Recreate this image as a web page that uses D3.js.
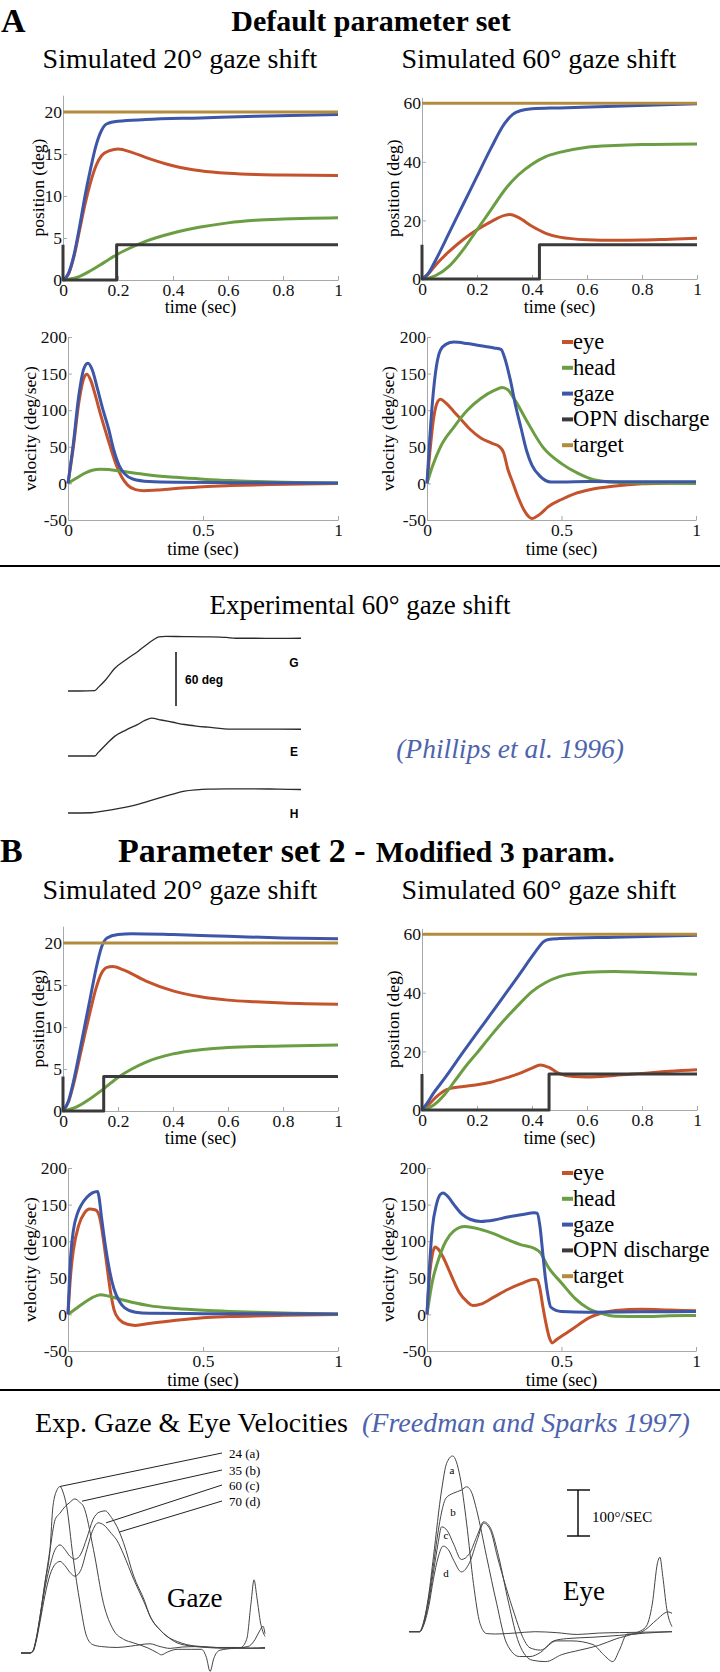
<!DOCTYPE html>
<html><head><meta charset="utf-8">
<script src="https://cdn.jsdelivr.net/npm/d3@7"></script>
<style>body{margin:0;background:#fff}svg{display:block}</style>
</head><body><svg id="c" width="720" height="1672"></svg>
<script>
// ---------------- DATA ----------------
const seriesNames = ['eye','head','gaze','OPN discharge','target'];
const seriesColors = ['#c4532d','#6b9e43','#3d56a8','#3a3a3a','#b38b3f'];
const posTicksX = [0,0.2,0.4,0.6,0.8,1];
const velTicksX = [0,0.5,1];
const pos20TicksY = [0,5,10,15,20];
const pos60TicksY = [0,20,40,60];
const velTicksY = [-50,0,50,100,150,200];

// Panel A, 20 deg, position [time s, deg]
const A20_pos_eye = [[0,0],[0.02,0.7],[0.04,2.8],[0.06,5.9],[0.08,9],[0.1,11.6],[0.12,13.6],[0.14,14.8],[0.17,15.4],[0.2,15.6],[0.25,15.2],[0.3,14.6],[0.4,13.6],[0.5,13.0],[0.6,12.7],[0.7,12.55],[0.8,12.5],[1,12.45]];
const A20_pos_head = [[0,0],[0.05,0.3],[0.1,1.1],[0.15,2.1],[0.2,3.1],[0.25,3.9],[0.3,4.6],[0.4,5.6],[0.5,6.3],[0.6,6.8],[0.7,7.1],[0.8,7.25],[0.9,7.35],[1,7.4]];
const A20_pos_gaze = [[0,0],[0.02,0.8],[0.04,3],[0.06,6.3],[0.08,10],[0.1,13.2],[0.12,16],[0.14,17.8],[0.16,18.6],[0.2,18.9],[0.3,19.1],[0.5,19.3],[0.7,19.5],[1,19.7]];
const A20_pos_opn = [[0,4.2],[0,0],[0.195,0],[0.195,4.2],[1,4.2]];
const A20_pos_target = [[0,20],[1,20]];
// Panel A, 60 deg, position
const A60_pos_eye = [[0,0],[0.03,2.5],[0.05,4.8],[0.1,9.5],[0.15,13.5],[0.2,16.8],[0.25,19.5],[0.3,21.7],[0.32,22],[0.35,21],[0.4,18],[0.45,15.6],[0.5,14.3],[0.6,13.4],[0.7,13.2],[0.8,13.3],[0.9,13.6],[1,13.9]];
const A60_pos_head = [[0,0],[0.05,1.2],[0.1,4.5],[0.15,10],[0.2,16.8],[0.25,23.5],[0.3,30.3],[0.35,35.5],[0.4,39.2],[0.45,41.8],[0.5,43.2],[0.6,45],[0.7,45.6],[0.8,45.9],[1,46.1]];
const A60_pos_gaze = [[0,0],[0.02,1.5],[0.05,6.5],[0.1,16],[0.15,25.5],[0.2,35],[0.25,44.5],[0.3,53],[0.33,56.2],[0.36,57.5],[0.4,58.1],[0.5,58.4],[0.7,59],[1,59.8]];
const A60_pos_opn = [[0,11.7],[0,0],[0.427,0],[0.427,11.7],[1,11.7]];
const A60_pos_target = [[0,60],[1,60]];
// Panel A, velocity [time s, deg/s]
const A20_vel_eye = [[0,0],[0.02,50],[0.04,110],[0.06,145],[0.07,149],[0.085,140],[0.1,122],[0.12,95],[0.14,70],[0.16,46],[0.18,24],[0.2,8],[0.22,-2],[0.25,-8.5],[0.28,-10],[0.33,-9],[0.4,-7],[0.5,-4.5],[0.6,-3],[0.75,-1.5],[1,-0.3]];
const A20_vel_head = [[0,0],[0.03,7],[0.06,13.5],[0.09,18],[0.12,19.5],[0.15,19],[0.2,16.5],[0.25,14],[0.3,11.5],[0.4,8.3],[0.5,5.8],[0.6,3.8],[0.7,2.5],[0.8,1.5],[0.9,0.8],[1,0.4]];
const A20_vel_gaze = [[0,0],[0.02,55],[0.04,120],[0.06,158],[0.074,164],[0.09,155],[0.11,128],[0.13,100],[0.15,75],[0.17,45],[0.19,24],[0.21,13],[0.24,6],[0.3,2.5],[0.4,1.5],[0.6,1],[1,0.5]];
const A60_vel_eye = [[0,0],[0.01,40],[0.025,90],[0.04,112],[0.05,115],[0.07,110],[0.1,98],[0.13,86],[0.16,74],[0.2,62],[0.24,55],[0.27,50],[0.285,42],[0.3,20],[0.32,0],[0.34,-20],[0.36,-36],[0.38,-46],[0.39,-48],[0.42,-42],[0.45,-32],[0.5,-22],[0.55,-14],[0.6,-9],[0.7,-3.5],[0.8,-0.5],[0.9,0.5],[1,1]];
const A60_vel_head = [[0,0],[0.02,23],[0.05,50],[0.1,77],[0.15,100],[0.2,116],[0.25,127],[0.28,131],[0.3,128],[0.33,112],[0.37,86],[0.43,50],[0.5,27],[0.56,14],[0.62,5],[0.7,1.5],[0.8,0.5],[1,0]];
const A60_vel_gaze = [[0,0],[0.01,60],[0.02,110],[0.035,160],[0.05,182],[0.07,190],[0.1,193],[0.15,191],[0.2,188],[0.25,185],[0.275,183],[0.29,170],[0.31,141],[0.33,105],[0.35,75],[0.37,45],[0.39,25],[0.42,10],[0.46,2],[0.5,2],[0.6,2.5],[0.8,2.3],[1,2.3]];

// Panel B, 20 deg, position
const B20_pos_eye = [[0,0],[0.02,1.1],[0.04,3.4],[0.06,6.3],[0.08,9.2],[0.1,12],[0.12,14.6],[0.14,16.4],[0.16,17.1],[0.18,17.2],[0.22,16.8],[0.3,15.5],[0.4,14.3],[0.5,13.6],[0.6,13.2],[0.7,13],[0.8,12.85],[1,12.7]];
const B20_pos_head = [[0,0],[0.05,0.5],[0.1,1.5],[0.15,2.7],[0.2,4],[0.25,5],[0.3,5.8],[0.4,6.8],[0.5,7.3],[0.6,7.55],[0.8,7.75],[1,7.85]];
const B20_pos_gaze = [[0,0],[0.02,1.2],[0.04,3.8],[0.06,7],[0.08,10.3],[0.1,13.6],[0.12,16.9],[0.14,19.5],[0.16,20.6],[0.2,21],[0.25,21.1],[0.4,21],[0.6,20.8],[0.8,20.6],[1,20.5]];
const B20_pos_opn = [[0,4.1],[0,0],[0.148,0],[0.148,4.1],[1,4.1]];
const B20_pos_target = [[0,20],[1,20]];
// Panel B, 60 deg, position
const B60_pos_eye = [[0,0],[0.02,1.5],[0.05,4.3],[0.08,6.5],[0.1,7.3],[0.15,8],[0.2,8.6],[0.25,9.5],[0.3,10.8],[0.35,12.3],[0.4,14.3],[0.43,15.4],[0.46,14.6],[0.5,12.4],[0.55,11.4],[0.6,11.3],[0.7,11.8],[0.8,12.5],[0.9,13.2],[1,13.7]];
const B60_pos_head = [[0,0],[0.04,1.5],[0.08,5],[0.12,10],[0.16,15],[0.2,19.5],[0.25,25.3],[0.3,30.8],[0.35,35.8],[0.4,40.4],[0.45,43.5],[0.5,45.5],[0.6,47],[0.7,47.3],[0.8,47],[1,46.3]];
const B60_pos_gaze = [[0,0],[0.02,2.5],[0.04,5.5],[0.08,10.5],[0.15,19.8],[0.2,26.3],[0.25,32.7],[0.3,39.2],[0.35,45.7],[0.4,52.4],[0.42,55],[0.44,57.3],[0.46,58.2],[0.5,58.5],[0.7,59],[1,59.6]];
const B60_pos_opn = [[0,12.3],[0,0],[0.462,0],[0.462,12.3],[1,12.3]];
const B60_pos_target = [[0,60],[1,60]];
// Panel B, velocity
const B20_vel_eye = [[0,0],[0.01,55],[0.02,88],[0.04,122],[0.06,138],[0.08,144],[0.1,143],[0.11,140],[0.12,128],[0.13,105],[0.14,78],[0.15,50],[0.16,25],[0.17,7],[0.19,-7],[0.22,-13.5],[0.25,-15],[0.3,-12.5],[0.4,-8],[0.5,-4.5],[0.6,-3],[0.8,-1.3],[1,-0.3]];
const B20_vel_head = [[0,0],[0.03,8],[0.06,16],[0.09,23],[0.12,27],[0.15,25],[0.2,20],[0.25,15.5],[0.3,12],[0.4,8],[0.5,5.6],[0.6,4],[0.7,2.8],[0.8,2],[0.9,1.2],[1,0.6]];
const B20_vel_gaze = [[0,0],[0.01,80],[0.02,115],[0.035,138],[0.05,150],[0.07,160],[0.09,166],[0.11,168],[0.115,160],[0.125,130],[0.14,90],[0.155,58],[0.17,35],[0.19,18],[0.21,9],[0.25,3],[0.3,1.5],[0.5,1],[1,0.5]];
const B60_vel_eye = [[0,0],[0.01,55],[0.02,82],[0.03,92],[0.04,90],[0.06,78],[0.08,62],[0.1,45],[0.12,30],[0.15,17],[0.17,12],[0.2,14],[0.25,24],[0.3,34],[0.35,42],[0.4,48],[0.41,47],[0.42,35],[0.43,12],[0.44,-8],[0.455,-32],[0.465,-39],[0.48,-35],[0.52,-25],[0.56,-15],[0.6,-5],[0.65,2],[0.7,5.5],[0.8,7],[0.9,6],[1,5]];
const B60_vel_head = [[0,0],[0.02,45],[0.04,72],[0.07,100],[0.1,114],[0.14,120],[0.2,116],[0.25,110],[0.3,102],[0.35,95],[0.4,90],[0.42,85],[0.45,65],[0.5,43],[0.55,22],[0.6,8],[0.65,1],[0.7,-2.5],[0.8,-3],[0.9,-2],[1,-1.5]];
const B60_vel_gaze = [[0,0],[0.01,70],[0.02,118],[0.035,150],[0.05,164],[0.06,166],[0.08,160],[0.1,150],[0.13,137],[0.16,130],[0.2,127],[0.25,129],[0.3,133],[0.35,136],[0.4,139],[0.41,138],[0.42,120],[0.43,85],[0.44,50],[0.45,25],[0.46,10],[0.5,4],[0.6,3],[0.8,3.5],[1,4]];

// Experimental (Phillips et al. 1996) [time ms, deg]
const expG = [[0,0],[50,0],[115,0.5],[130,4],[160,12],[200,25],[250,35],[300,44],[340,52],[370,57.5],[390,60.2],[420,60.6],[500,60.5],[600,60.2],[680,59.5],[720,58.6],[800,58.6],[900,58.5],[1000,58.6]];
const expE = [[0,0],[115,0],[130,4],[160,12],[200,21.8],[250,29],[300,35.2],[330,39.5],[358,42],[400,40],[450,37.5],[500,35],[550,33.3],[600,32],[700,29.8],[800,29.8],[1000,29.7]];
const expH = [[0,0],[100,0.3],[150,2],[220,5.1],[300,9.7],[350,13.5],[400,17.3],[450,21],[500,24.3],[550,25.8],[600,26.5],[700,26.8],[800,26.9],[900,26.5],[1000,26.1]];
const expTraceLabels = ['G','E','H'];
const scaleBarDeg = 60;

// Freedman & Sparks 1997 velocities [time ms, deg/s]
const fsGaze_a = [[0,0],[37,0],[49,5],[62,30],[78,80],[98,152],[119,225],[131,319],[148,355],[160,362],[172,350],[187,319],[213,210],[242,108],[269,36],[295,18],[330,14],[394,12],[450,15],[529,20],[570,14],[611,10],[660,13],[734,14],[800,12],[880,12],[940,11],[1000,12]];
const fsGaze_b = [[0,0],[37,0],[49,5],[62,30],[78,80],[98,152],[119,225],[140,290],[160,304],[180,318],[197,326],[221,335],[240,328],[256,319],[297,225],[338,108],[379,50],[420,30],[461,22],[520,11],[560,0],[575,-4],[600,2],[640,8],[700,8],[740,8],[760,-10],[775,-40],[790,-12],[815,6],[880,10],[1000,10]];
const fsGaze_c = [[0,0],[37,0],[49,4],[62,28],[78,75],[98,140],[119,190],[140,225],[160,235],[180,225],[201,210],[221,204],[245,215],[270,250],[295,290],[320,306],[345,309],[370,295],[393,275],[420,240],[462,167],[505,115],[529,80],[570,50],[599,36],[640,25],[681,18],[740,14],[800,12],[900,12],[925,30],[943,110],[955,159],[967,120],[982,65],[1000,36]];
const fsGaze_d = [[0,0],[37,0],[49,3],[62,25],[78,68],[98,125],[119,170],[140,193],[160,199],[180,190],[201,175],[221,167],[245,180],[270,225],[295,268],[316,283],[340,278],[370,260],[393,245],[420,215],[462,160],[505,110],[529,80],[570,50],[599,36],[640,22],[700,15],[760,12],[850,10],[930,14],[960,30],[978,48],[992,58],[1000,42]];
const fsGazeLabels = ['24 (a)','35 (b)','60 (c)','70 (d)'];
const fsGazeLeaderTargets = [[160,362],[250,330],[349,283],[403,263]];
const fsEye_a = [[0,0],[40,0],[55,20],[75,80],[93,163],[124,308],[143,366],[166,382],[194,337],[219,236],[245,105],[270,18],[295,-4],[330,-5],[400,-3],[480,0],[560,-2],[640,-6],[720,-3],[800,-2],[1000,0]];
const fsEye_b = [[0,0],[40,0],[55,18],[75,75],[93,145],[110,215],[124,260],[140,290],[168,301],[200,308],[219,315],[240,300],[257,265],[295,163],[333,62],[371,-25],[420,-54],[460,-54],[500,-45],[550,-20],[600,-15],[700,-12],[800,-8],[900,-3],[1000,0]];
const fsEye_c = [[0,0],[40,0],[55,15],[75,65],[93,130],[110,190],[124,228],[145,220],[170,190],[199,157],[230,170],[260,210],[284,239],[310,225],[341,163],[379,62],[418,-25],[469,-62],[520,-65],[580,-50],[650,-40],[720,-30],[790,-15],[850,-5],[900,10],[925,60],[945,150],[954,162],[965,120],[980,50],[1000,11]];
const fsEye_d = [[0,0],[40,0],[55,13],[75,55],[93,115],[110,160],[130,186],[150,178],[170,155],[199,130],[230,150],[260,200],[284,236],[310,220],[336,163],[400,40],[431,-10],[460,-35],[500,-40],[560,-20],[620,-20],[700,-28],[740,-50],[775,-65],[800,-40],[830,-5],[860,-5],[900,5],[940,25],[985,43],[1000,40]];
const fsEyeLetters = ['a','b','c','d'];
const scaleBarVel = 100;

// ---------------- DRAWING ----------------
const SERIF = '"Liberation Serif","Times New Roman",Times,serif';
const SANS = '"Liberation Sans",Arial,sans-serif';
const svg = d3.select('#c');
const fmt = d => String(+(+d).toFixed(2));

function txt(x, y, s, size, opt = {}) {
  const t = svg.append('text').attr('x', x).attr('y', y).text(s)
    .attr('font-family', opt.family || SERIF).attr('font-size', size)
    .attr('fill', opt.fill || '#000')
    .attr('text-anchor', opt.anchor || 'start');
  if (opt.weight) t.attr('font-weight', opt.weight);
  if (opt.italic) t.attr('font-style', 'italic');
  return t;
}

function simPanel(p) {
  const x = d3.scaleLinear().domain([0, 1]).range([p.x0, p.x1]);
  const y = d3.scaleLinear().domain(p.dom).range([p.yb, p.yt]);
  const g = svg.append('g');
  const xa = g.append('g').attr('transform', `translate(0,${p.yb})`)
    .call(d3.axisBottom(x).tickValues(p.xticks).tickFormat(fmt).tickSizeInner(-4).tickSizeOuter(0).tickPadding(4));
  const ya = g.append('g').attr('transform', `translate(${p.x0},0)`)
    .call(d3.axisLeft(y).tickValues(p.yticks).tickFormat(fmt).tickSizeInner(-4).tickSizeOuter(0).tickPadding(1));
  [xa, ya].forEach(a => {
    a.attr('font-family', SERIF).attr('font-size', 17.5);
    a.select('.domain').attr('stroke', '#a8a8a8').attr('stroke-width', 1);
    a.selectAll('.tick line').attr('stroke', '#a8a8a8');
    a.selectAll('.tick text').attr('fill', '#111');
  });
  p.series.forEach((s, i) => {
    if (!s) return;
    const step = s.length > 2 && s[0][0] === s[1][0];
    const line = d3.line().x(d => x(d[0])).y(d => y(d[1]))
      .curve(step ? d3.curveLinear : d3.curveMonotoneX);
    g.append('path').datum(s).attr('d', line).attr('fill', 'none')
      .attr('stroke', seriesColors[i]).attr('stroke-width', 3)
      .attr('stroke-linejoin', 'round');
  });
  txt((p.x0 + p.x1) / 2, p.yb + p.xlabOff, 'time (sec)', 18, {anchor: 'middle'});
  svg.append('text').attr('transform', `translate(${p.ylabX},${(p.yb + p.yt) / 2}) rotate(-90)`)
    .attr('text-anchor', 'middle').attr('dy', '0.35em')
    .attr('font-family', SERIF).attr('font-size', 17.5).text(p.ylab);
}

function legend(x, y0, dy) {
  seriesNames.forEach((n, i) => {
    const yy = y0 + i * dy;
    svg.append('line').attr('x1', x).attr('x2', x + 11).attr('y1', yy).attr('y2', yy)
      .attr('stroke', seriesColors[i]).attr('stroke-width', 4);
    txt(x + 11, yy + 7, n, 22.5);
  });
}

function section(off, d) {
  simPanel({x0: 63, x1: 338, yb: 280 + off, yt: 280 + off - 22 * 8.4, dom: [0, 22], xticks: posTicksX, yticks: pos20TicksY,
    series: d.p20, ylab: 'position (deg)', ylabX: 38, xlabOff: 33});
  simPanel({x0: 422, x1: 697, yb: 279 + off, yt: 279 + off - 62 * 2.93, dom: [0, 62], xticks: posTicksX, yticks: pos60TicksY,
    series: d.p60, ylab: 'position (deg)', ylabX: 393, xlabOff: 34});
  simPanel({x0: 68, x1: 338, yb: 520 + off, yt: 337 + off, dom: [-50, 200], xticks: velTicksX, yticks: velTicksY,
    series: d.v20, ylab: 'velocity (deg/sec)', ylabX: 30, xlabOff: 35});
  simPanel({x0: 427, x1: 696, yb: 520 + off, yt: 337 + off, dom: [-50, 200], xticks: velTicksX, yticks: velTicksY,
    series: d.v60, ylab: 'velocity (deg/sec)', ylabX: 388, xlabOff: 35});
  legend(562, 342 + off, 25.8);
  txt(180, 68 + off, 'Simulated 20° gaze shift', 28, {anchor: 'middle'});
  txt(539, 68 + off, 'Simulated 60° gaze shift', 28, {anchor: 'middle'});
}

// Section A
txt(1, 32, 'A', 34, {weight: 'bold'});
txt(371, 31, 'Default parameter set', 30, {weight: 'bold', anchor: 'middle'});
section(0, {
  p20: [A20_pos_eye, A20_pos_head, A20_pos_gaze, A20_pos_opn, A20_pos_target],
  p60: [A60_pos_eye, A60_pos_head, A60_pos_gaze, A60_pos_opn, A60_pos_target],
  v20: [A20_vel_eye, A20_vel_head, A20_vel_gaze],
  v60: [A60_vel_eye, A60_vel_head, A60_vel_gaze]
});

// Section B
txt(0, 862, 'B', 34, {weight: 'bold'});
const bt = txt(118, 862, 'Parameter set 2 -', 34, {weight: 'bold'});
bt.append('tspan').attr('dx', 10).attr('font-size', 30).text('Modified 3 param.');
section(831, {
  p20: [B20_pos_eye, B20_pos_head, B20_pos_gaze, B20_pos_opn, B20_pos_target],
  p60: [B60_pos_eye, B60_pos_head, B60_pos_gaze, B60_pos_opn, B60_pos_target],
  v20: [B20_vel_eye, B20_vel_head, B20_vel_gaze],
  v60: [B60_vel_eye, B60_vel_head, B60_vel_gaze]
});

// separators
[566, 1390].forEach(yy => svg.append('line').attr('x1', 0).attr('x2', 720).attr('y1', yy).attr('y2', yy)
  .attr('stroke', '#000').attr('stroke-width', 2));

// Experimental Phillips
txt(360, 614, 'Experimental 60° gaze shift', 27, {anchor: 'middle'});
{
  const x = d3.scaleLinear().domain([0, 1000]).range([68, 301]);
  const bases = [691, 756, 813];
  const labY = [667, 756, 818];
  const pxPerDeg = 0.9;
  [expG, expE, expH].forEach((tr, i) => {
    const y = d3.scaleLinear().domain([0, 60]).range([bases[i], bases[i] - 60 * pxPerDeg]);
    svg.append('path').datum(tr).attr('fill', 'none').attr('stroke', '#2a2a2a').attr('stroke-width', 1.3)
      .attr('d', d3.line().x(d => x(d[0])).y(d => y(d[1])).curve(d3.curveMonotoneX));
    txt(294, labY[i], expTraceLabels[i], 12, {family: SANS, weight: 'bold', anchor: 'middle'});
  });
  const yb = d3.scaleLinear().domain([0, 60]).range([706, 706 - 60 * pxPerDeg]);
  svg.append('line').attr('x1', 176).attr('x2', 176).attr('y1', yb(0)).attr('y2', yb(scaleBarDeg))
    .attr('stroke', '#111').attr('stroke-width', 1.5);
  txt(185, 684, scaleBarDeg + ' deg', 12, {family: SANS, weight: 'bold'});
}
txt(510, 758, '(Phillips et al. 1996)', 27.5, {italic: true, anchor: 'middle', fill: '#4d64ad'});

// Freedman & Sparks
txt(35, 1432, 'Exp. Gaze & Eye Velocities', 28);
txt(362, 1432, '(Freedman and Sparks 1997)', 28, {italic: true, fill: '#4d64ad'});
{
  const x = d3.scaleLinear().domain([0, 1000]).range([21, 265]);
  const y = d3.scaleLinear().domain([0, 100]).range([1653, 1607]);
  const line = d3.line().x(d => x(d[0])).y(d => y(d[1])).curve(d3.curveMonotoneX);
  [fsGaze_a, fsGaze_b, fsGaze_c, fsGaze_d].forEach(tr => svg.append('path').datum(tr)
    .attr('fill', 'none').attr('stroke', '#444').attr('stroke-width', 1).attr('d', line));
  const labYs = [1454, 1471, 1486, 1502];
  fsGazeLabels.forEach((l, i) => {
    const t = fsGazeLeaderTargets[i];
    svg.append('line').attr('x1', x(t[0])).attr('y1', y(t[1])).attr('x2', 222).attr('y2', labYs[i] - 1)
      .attr('stroke', '#222').attr('stroke-width', 1);
    txt(229, labYs[i] + 4, l, 13);
  });
  txt(167, 1607, 'Gaze', 27);
}
{
  const x = d3.scaleLinear().domain([0, 1000]).range([409, 672]);
  const y = d3.scaleLinear().domain([0, 100]).range([1631.7, 1585.7]);
  const line = d3.line().x(d => x(d[0])).y(d => y(d[1])).curve(d3.curveMonotoneX);
  [fsEye_a, fsEye_b, fsEye_c, fsEye_d].forEach(tr => svg.append('path').datum(tr)
    .attr('fill', 'none').attr('stroke', '#444').attr('stroke-width', 1).attr('d', line));
  const lp = [[452, 1474], [453, 1516], [446, 1539], [446, 1577]];
  fsEyeLetters.forEach((l, i) => txt(lp[i][0], lp[i][1], l, 11, {anchor: 'middle'}));
  const yb = d3.scaleLinear().domain([0, 100]).range([1536, 1490]);
  const g = svg.append('g').attr('stroke', '#111').attr('stroke-width', 1.5);
  g.append('line').attr('x1', 578).attr('x2', 578).attr('y1', yb(0)).attr('y2', yb(scaleBarVel));
  g.append('line').attr('x1', 567).attr('x2', 590).attr('y1', yb(0)).attr('y2', yb(0));
  g.append('line').attr('x1', 567).attr('x2', 590).attr('y1', yb(scaleBarVel)).attr('y2', yb(scaleBarVel));
  txt(592, 1522, scaleBarVel + '°/SEC', 15);
  txt(563, 1600, 'Eye', 27);
}
</script></body></html>
